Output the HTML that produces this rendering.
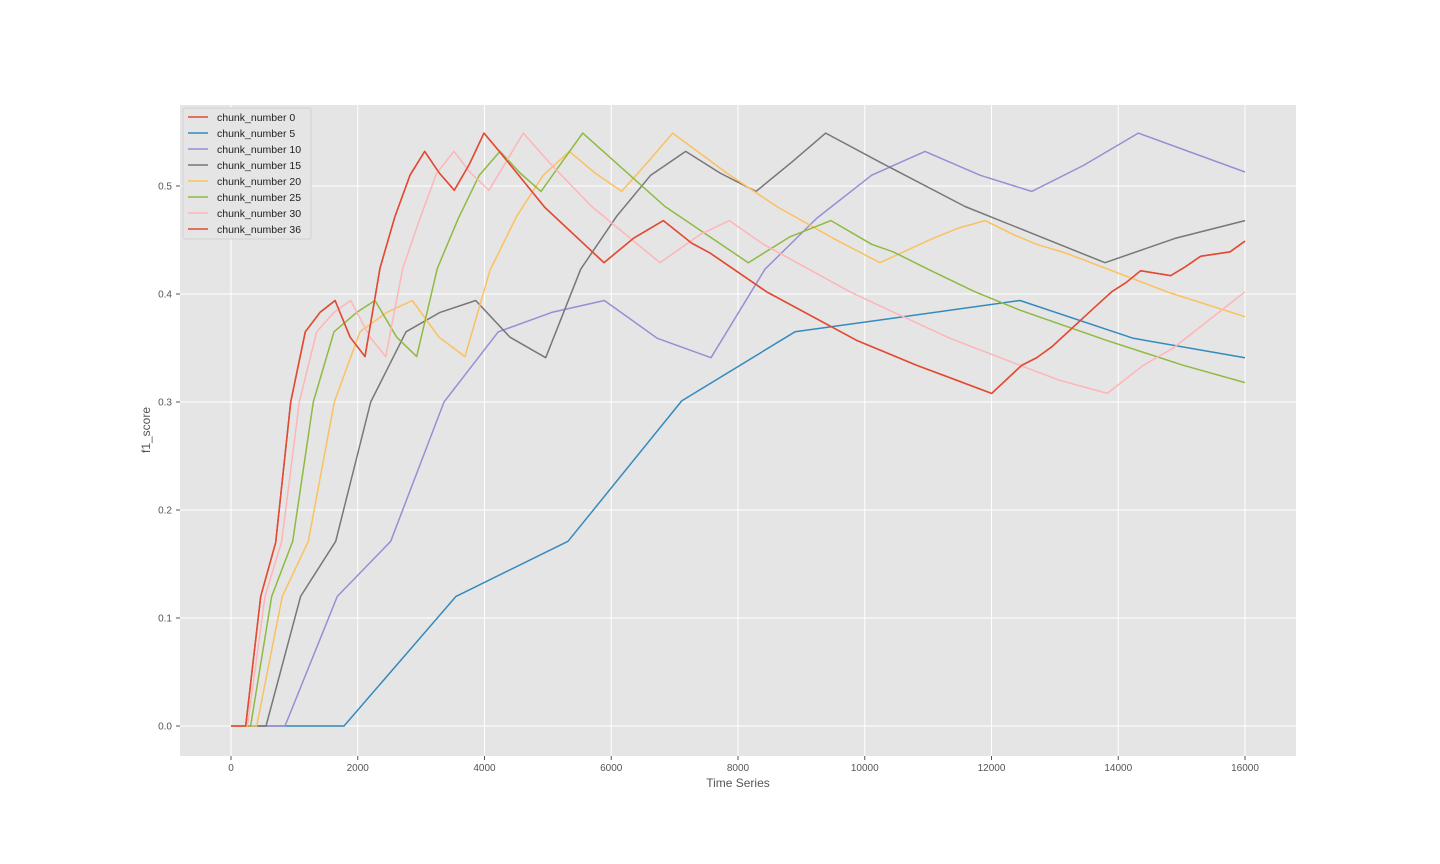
<!DOCTYPE html>
<html><head><meta charset="utf-8"><style>
html,body{margin:0;padding:0;background:#fff;}
svg{display:block;font-family:"Liberation Sans","DejaVu Sans",sans-serif;}
</style></head><body>
<svg id="chart" width="1440" height="864" xmlns="http://www.w3.org/2000/svg">
<rect x="0" y="0" width="1440" height="864" fill="#ffffff"/>
<rect x="180" y="105" width="1116" height="651" fill="#e5e5e5"/>
<g id="grid"></g><g id="series"></g><g id="ticks"></g>
<text x="738" y="787" font-size="12" fill="#555" text-anchor="middle">Time Series</text>
<text x="150" y="430" font-size="12" fill="#555" text-anchor="middle" transform="rotate(-90 150 430)">f1_score</text>
<g id="legend"></g>
</svg>
<script>
const NS="http://www.w3.org/2000/svg";
const xTicks=[0,2000,4000,6000,8000,10000,12000,14000,16000];
const yTicks=[0.0,0.1,0.2,0.3,0.4,0.5];
const seriesNames=["chunk_number 0","chunk_number 5","chunk_number 10","chunk_number 15","chunk_number 20","chunk_number 25","chunk_number 30","chunk_number 36"];
const seriesColors=["#E24A33","#348ABD","#988ED5","#777777","#FBC15E","#8EBA42","#FFB5B8","#E24A33"];
const s0=[[0,0],[232,0],[468,0.12],[705,0.17],[942,0.30],[1173,0.365],[1404,0.383],[1643,0.394],[1880,0.36],[2114,0.342],[2351,0.424],[2583,0.471],[2825,0.51],[3056,0.532],[3287,0.512],[3524,0.496],[3760,0.52],[3992,0.549],[4234,0.532],[4955,0.48],[5886,0.429],[6348,0.4515],[6822,0.468],[7269,0.447],[7558,0.438],[8452,0.402],[9873,0.357],[10820,0.334],[11503,0.319],[12003,0.308],[12476,0.334],[12713,0.341],[12950,0.351],[13633,0.388],[13896,0.402],[14133,0.411],[14354,0.4216],[14827,0.417],[15053,0.425],[15301,0.435],[15763,0.439],[16000,0.449]];
const s5=[[0,0],[1783,0],[3550,0.12],[5318,0.171],[7111,0.301],[8899,0.365],[12450,0.394],[14238,0.359],[16000,0.341]];
const s10=[[0,0],[852,0],[1678,0.12],[2520,0.171],[3361,0.30],[4218,0.365],[5060,0.383],[5891,0.394],[6727,0.359],[7574,0.341],[8426,0.423],[9241,0.47],[10109,0.51],[10950,0.532],[11818,0.51],[12634,0.495],[13449,0.519],[14317,0.549],[16000,0.513]];
const s15=[[0,0],[552,0],[1099,0.12],[1652,0.171],[2204,0.30],[2761,0.365],[3298,0.383],[3861,0.394],[4402,0.36],[4965,0.341],[5518,0.423],[6086,0.472],[6622,0.51],[7175,0.532],[7716,0.512],[8284,0.495],[8847,0.522],[9384,0.549],[10240,0.522],[11582,0.481],[13791,0.429],[14896,0.4515],[16000,0.468]];
const s20=[[0,0],[405,0],[810,0.12],[1220,0.171],[1630,0.30],[2035,0.365],[2457,0.383],[2861,0.394],[3282,0.36],[3692,0.342],[4087,0.422],[4508,0.472],[4928,0.51],[5338,0.532],[5743,0.512],[6164,0.495],[6560,0.521],[6969,0.549],[7821,0.512],[8610,0.481],[9505,0.4515],[10240,0.429],[11056,0.451],[11476,0.461],[11897,0.468],[12344,0.455],[12713,0.446],[13186,0.4376],[14817,0.401],[16000,0.379]];
const s25=[[0,0],[310,0],[642,0.12],[973,0.171],[1299,0.30],[1625,0.365],[1983,0.383],[2272,0.394],[2614,0.36],[2930,0.342],[3256,0.4236],[3587,0.47],[3918,0.51],[4245,0.532],[4560,0.512],[4892,0.495],[5549,0.549],[6848,0.481],[8163,0.429],[8820,0.453],[9467,0.468],[10109,0.446],[10451,0.439],[11030,0.422],[11740,0.402],[12450,0.385],[13817,0.357],[15027,0.334],[16000,0.318]];
const s30=[[0,0],[258,0],[537,0.12],[800,0.171],[1078,0.30],[1352,0.365],[1625,0.383],[1888,0.394],[2193,0.36],[2441,0.342],[2709,0.4236],[2982,0.47],[3245,0.512],[3519,0.532],[3782,0.512],[4071,0.496],[4613,0.549],[5033,0.521],[5691,0.481],[6769,0.429],[7400,0.455],[7863,0.468],[8400,0.446],[9767,0.402],[10240,0.389],[11345,0.359],[12450,0.334],[13081,0.32],[13828,0.308],[14396,0.334],[14869,0.35],[16000,0.402]];
const s36=s0.map(p=>[p[0],p[1]]);
const allSeries=[s0,s5,s10,s15,s20,s25,s30,s36];

const X0=180,X1=1296,Y0=105,Y1=756;
function xs(v){return 231+(v-0)*(1245-231)/16000;}
function ys(v){return 726-v*(726-186)/0.5;}
function el(t,a){const e=document.createElementNS(NS,t);for(const k in a)e.setAttribute(k,a[k]);return e;}
const grid=document.getElementById('grid'),ticks=document.getElementById('ticks'),ser=document.getElementById('series'),leg=document.getElementById('legend');
xTicks.forEach(t=>{const x=xs(t);
 const g=el('line',{x1:x,x2:x,y1:Y0,y2:Y1,stroke:'#fff','stroke-width':1});
 
 
 grid.appendChild(g);
 const tk=el('line',{x1:x,x2:x,y1:Y1,y2:Y1+4,stroke:'#555'});
 
 
 ticks.appendChild(tk);
 const tx=el('text',{x:x,y:771,'font-size':10,fill:'#555','text-anchor':'middle'});tx.textContent=String(t);
 
 
 ticks.appendChild(tx);});
yTicks.forEach(t=>{const y=ys(t);
 const g=el('line',{x1:X0,x2:X1,y1:y,y2:y,stroke:'#fff','stroke-width':1});
 
 
 grid.appendChild(g);
 const tk=el('line',{x1:X0-4,x2:X0,y1:y,y2:y,stroke:'#555'});
 
 
 ticks.appendChild(tk);
 const tx=el('text',{x:X0-8,y:y+3.5,'font-size':10,fill:'#555','text-anchor':'end'});tx.textContent=t.toFixed(1);
 
 
 ticks.appendChild(tx);});
allSeries.forEach((s,i)=>{
 const p=el('polyline',{points:s.map(q=>xs(q[0]).toFixed(1)+','+ys(q[1]).toFixed(1)).join(' '),fill:'none',stroke:seriesColors[i],'stroke-width':1.5,'stroke-linejoin':'round'});
 
 
 ser.appendChild(p);});
const box=el('rect',{x:183,y:108,width:128,height:131,rx:2,fill:'#e5e5e5',stroke:'#cccccc','stroke-opacity':0.8});


leg.appendChild(box);
seriesNames.forEach((n,i)=>{const y=117+i*16;
 const ln=el('line',{x1:188,x2:208,y1:y,y2:y,stroke:seriesColors[i],'stroke-width':1.5});
 
 
 leg.appendChild(ln);
 const t=el('text',{x:217,y:y+4,'font-size':10.5,fill:'#222'});t.textContent=n;
 
 
 leg.appendChild(t);});
</script>
</body></html>
